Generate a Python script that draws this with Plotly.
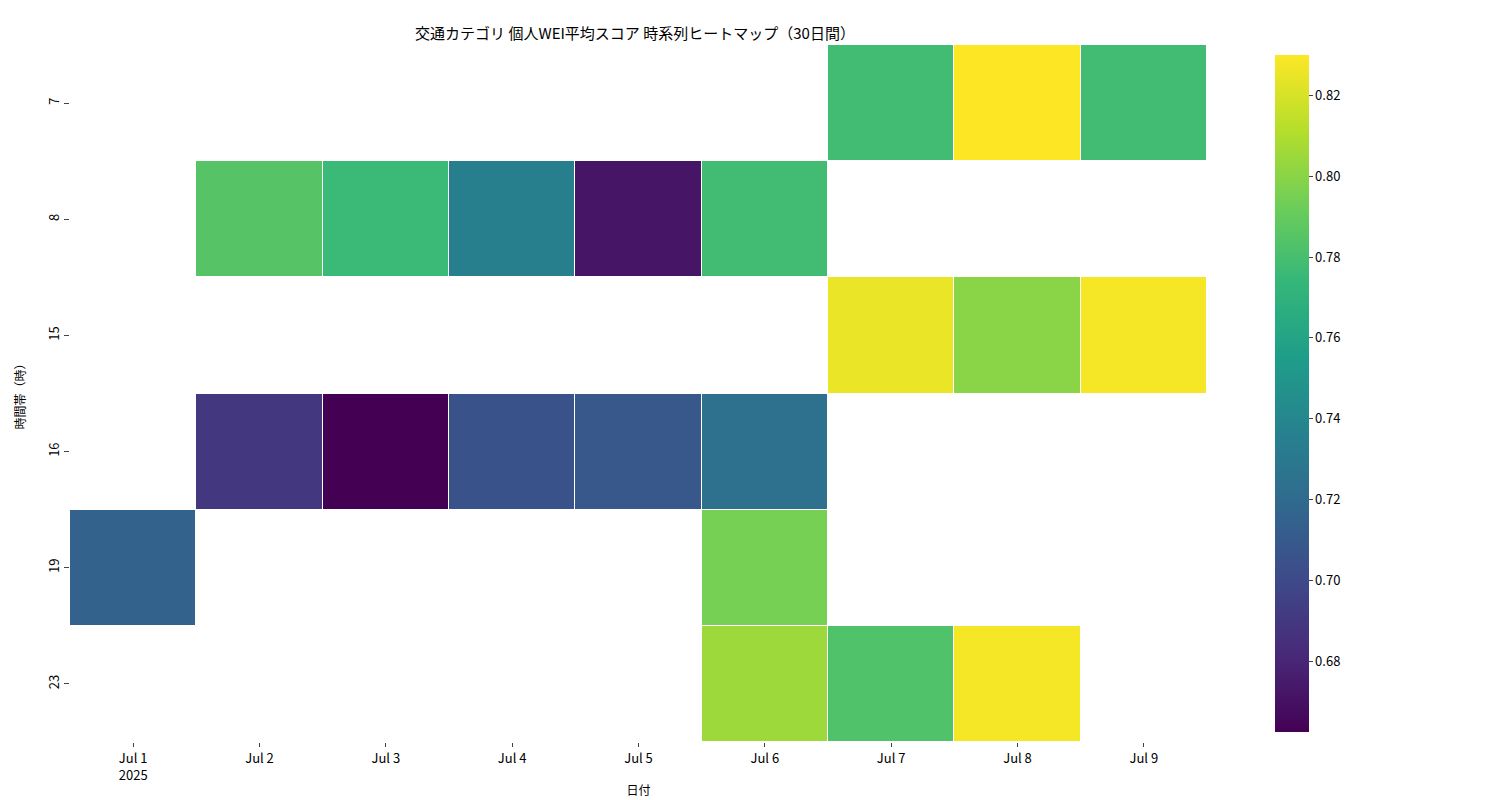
import plotly.graph_objects as go

dates = ["2025-07-01", "2025-07-02", "2025-07-03", "2025-07-04", "2025-07-05",
         "2025-07-06", "2025-07-07", "2025-07-08", "2025-07-09"]
hours = ["7", "8", "15", "16", "19", "23"]
N = None
row_7 = [N, N, N, N, N, N, 0.778, 0.830, 0.778]
row_8 = [N, 0.785, 0.776, 0.735, 0.672, 0.778, N, N, N]
row_15 = [N, N, N, N, N, N, 0.825, 0.800, 0.828]
row_16 = [N, 0.690, 0.6625, 0.705, 0.708, 0.725, N, N, N]
row_19 = [0.715, N, N, N, N, 0.795, N, N, N]
row_23 = [N, N, N, N, N, 0.805, 0.783, 0.828, N]
z = [row_7, row_8, row_15, row_16, row_19, row_23]

fig = go.Figure(go.Heatmap(
    x=dates, y=hours, z=z, colorscale="Viridis", zmin=0.6625, zmax=0.830,
    xgap=1, ygap=1, hoverongaps=False,
    colorbar=dict(thickness=34, len=1, y=0.5, yanchor="middle", x=1.06, xpad=0,
                  outlinewidth=0, ticks="outside", ticklen=4,
                  tickvals=[0.68, 0.70, 0.72, 0.74, 0.76, 0.78, 0.80, 0.82],
                  tickformat=".2f"),
))
fig.update_layout(
    width=1500, height=800, plot_bgcolor="white", paper_bgcolor="white",
    font=dict(family="Noto Sans CJK JP", size=13, color="black"),
    title=dict(text="交通カテゴリ 個人WEI平均スコア 時系列ヒートマップ（30日間）",
               x=0.418, xanchor="center", y=0.975, font=dict(size=15)),
    margin=dict(l=57, r=301, t=37, b=56),
)
fig.update_xaxes(title=dict(text="日付", font=dict(size=12), standoff=4),
                 ticks="outside", ticklen=4, showgrid=False, zeroline=False)
fig.update_yaxes(title=dict(text="時間帯（時）", font=dict(size=12)),
                 autorange="reversed", ticks="outside", ticklen=5,
                 tickangle=-90, showgrid=False, zeroline=False)
fig.write_html("out.html")
